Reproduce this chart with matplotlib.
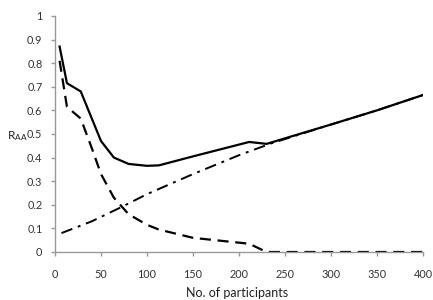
import matplotlib
matplotlib.use('Agg')
import matplotlib.pyplot as plt

# values
x_solid = [5, 13, 28, 50, 64, 80, 100, 113, 150, 180, 211, 230, 300, 350, 400]
y_solid = [0.87, 0.715, 0.68, 0.47, 0.40, 0.373, 0.365, 0.367, 0.405, 0.435, 0.466, 0.458, 0.54, 0.60, 0.665]

x_dash = [5, 13, 28, 40, 50, 64, 80, 100, 113, 150, 211, 230, 250, 300, 350, 400]
y_dash = [0.81, 0.615, 0.565, 0.44, 0.33, 0.23, 0.16, 0.115, 0.095, 0.06, 0.035, 0.0, 0.0, 0.0, 0.0, 0.0]

x_dashdot = [7, 40, 72, 100, 150, 200, 235, 300, 350, 400]
y_dashdot = [0.08, 0.13, 0.19, 0.245, 0.33, 0.41, 0.46, 0.54, 0.60, 0.665]

xticks = [0, 50, 100, 150, 200, 250, 300, 350, 400]
yticks = [0, 0.1, 0.2, 0.3, 0.4, 0.5, 0.6, 0.7, 0.8, 0.9, 1]
ytick_labels = ['0', '0.1', '0.2', '0.3', '0.4', '0.5', '0.6', '0.7', '0.8', '0.9', '1']

plt.rcParams['font.family'] = ['Lato', 'DejaVu Sans']

fig = plt.figure(figsize=(4.33, 3.0), dpi=100)
ax = fig.add_axes([0.127, 0.16, 0.850, 0.787])

ax.plot(x_dashdot, y_dashdot, color='black', lw=1.4, dashes=(6, 3, 1.5, 3))
ax.plot(x_dash, y_dash, color='black', lw=1.6, dashes=(5, 3))
ax.plot(x_solid, y_solid, color='black', lw=1.6)

ax.set_xlim(0, 400)
ax.set_ylim(0, 1)
ax.set_xticks(xticks)
ax.set_yticks(yticks)
ax.set_yticklabels(ytick_labels)

for s in ['top', 'right']:
    ax.spines[s].set_visible(False)
for s in ['left', 'bottom']:
    ax.spines[s].set_color('#999999')
    ax.spines[s].set_linewidth(1.0)
ax.tick_params(axis='both', colors='#999999', labelcolor='#333333', labelsize=7.8,
               length=3, width=1.0, direction='out')
ax.tick_params(axis='x', pad=9)
ax.tick_params(axis='y', pad=6)

ax.set_xlabel('No. of participants', fontsize=9, color='#222222')
ax.xaxis.set_label_coords(0.495, -0.174)
ax.xaxis.label.set_va('center')
fig.text(0.016, 0.547, r'$\mathregular{R_{AA}}$', fontsize=8.5, color='#222222',
         ha='left', va='center')

fig.savefig('out.png', dpi=100)
